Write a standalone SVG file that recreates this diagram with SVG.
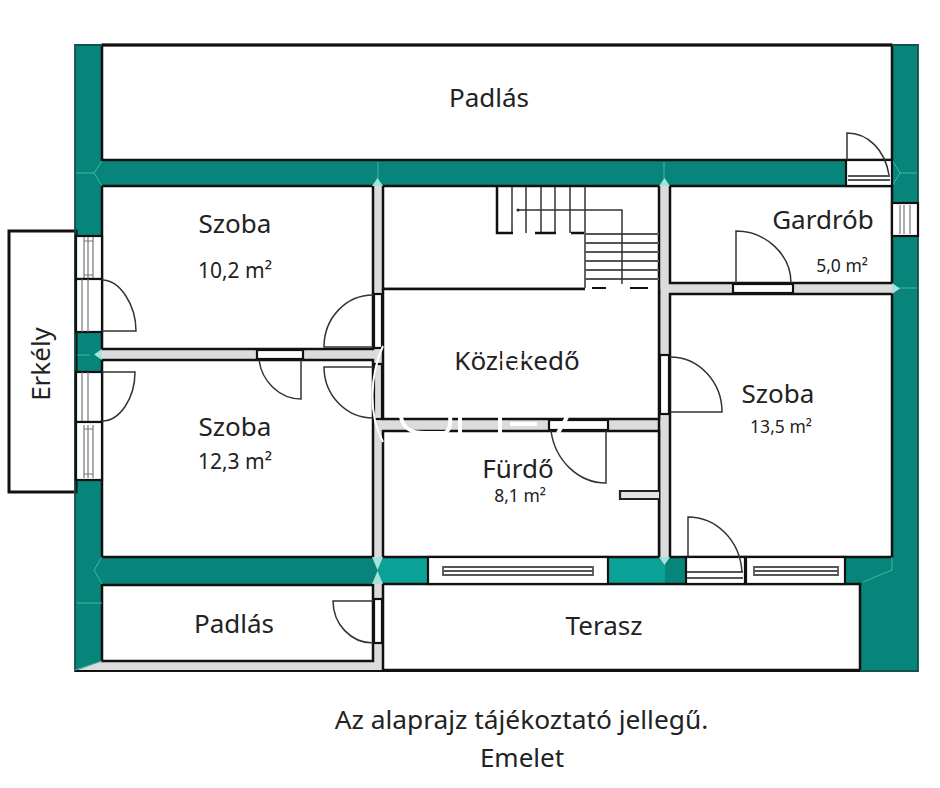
<svg xmlns="http://www.w3.org/2000/svg" width="940" height="788" viewBox="0 0 940 788">
<style>
text{font-family:"Noto Sans","Open Sans","Liberation Sans",sans-serif;fill:#222;text-anchor:middle}
.t{font-size:26px}.a{font-size:21px}.s{font-size:17.5px}
.room{fill:#fff;stroke:#111;stroke-width:2.5}
.teal{fill:#08857b}.lt{fill:#0aa296}
.gray{fill:#dcdcdc;stroke:none}
.edge{fill:none;stroke:#111;stroke-width:2.5}
.frame{fill:#fff;stroke:#111;stroke-width:2.2}
.thin{fill:none;stroke:#333;stroke-width:1.5}
.mid{fill:none;stroke:#555;stroke-width:1.8}
.fine{fill:none;stroke:#777;stroke-width:1.2}
.wm{fill:none;stroke:#fff;stroke-width:2}
.wmb{fill:none;stroke:#fff;stroke-width:4}
.wmf{fill:none;stroke:#fff;stroke-width:1.5}
.hi{fill:none;stroke:#3fb5aa;stroke-width:1}
.tip{fill:#a8e0da}
</style>
<rect width="940" height="788" fill="#fff"/>
<g id="walls">
<rect class="teal" x="75" y="45" width="843" height="626"/>
<rect class="lt" x="377" y="557" width="288" height="27"/>
<rect x="383" y="584" width="540" height="100" fill="#fff"/>
<rect x="918" y="40" width="22" height="640" fill="#fff"/>
<rect class="teal" x="860" y="584" width="58" height="86"/>
<rect class="gray" x="372" y="186" width="11" height="371"/>
<rect class="gray" x="372" y="584" width="11" height="87"/>
<rect class="gray" x="102" y="349" width="271" height="11"/>
<rect class="gray" x="659" y="186" width="11" height="371"/>
<rect class="gray" x="670" y="283" width="222" height="11"/>
<rect class="gray" x="383" y="419" width="276" height="12"/>
<polygon class="gray" points="75,671 102,661 372,661 383,661 383,671"/>
</g>
<g id="rooms">
<rect id="padlas-top" class="room" x="102" y="45" width="790" height="115"/>
<rect id="szoba-1" class="room" x="102" y="186" width="271" height="163"/>
<rect id="szoba-2" class="room" x="102" y="360" width="271" height="197"/>
<rect id="padlas-bottom" class="room" x="102" y="585" width="271" height="76"/>
<rect id="lepcso" x="383" y="186" width="276" height="103" fill="#fff"/>
<path class="edge" d="M383 186V289H585M383 186H659V557"/>
<rect id="kozlekedo" x="383" y="289" width="276" height="130" fill="#fff"/>
<path class="edge" d="M383 289V419H659V289M383 289H585"/>
<rect id="furdo" class="room" x="383" y="431" width="276" height="126"/>
<rect id="gardrob" class="room" x="670" y="186" width="222" height="97"/>
<rect id="szoba-3" class="room" x="670" y="294" width="222" height="263"/>
<rect id="terasz" class="room" x="383" y="584" width="477" height="86"/>
<rect id="erkely" fill="#fff" stroke="#111" stroke-width="3" x="9" y="231" width="67" height="261"/>
<path d="M75 45H918V671H75Z" fill="none" stroke="#15504a" stroke-width="1.8"/>
<path d="M75 671H860" fill="none" stroke="#111" stroke-width="2"/>
<path d="M102 45H892" fill="none" stroke="#111" stroke-width="3"/>
<path d="M659 491H620V499H659" stroke="#222" stroke-width="2.200" fill="#e4e4e4"/>
</g>
<g id="highlights">
<path class="hi" d="M76 173H94L102 161M94 173L102 186M378 162V180M664 162V180M892 160L900 173L892 186M900 173H917M77 603H102M77 472H102M94 570L102 557M94 570L102 584M863 582L892 570V557M75 670L102 661M892 288H917M77 355H90"/>
<polygon class="tip" points="372,186 377.5,178 383,186"/>
<polygon class="tip" points="659,186 664.500,178 670,186"/>
<polygon class="tip" points="892,283 900,288.500 892,294"/>
<polygon class="tip" points="102,349 94,354.500 102,360"/>
<polygon class="tip" points="372,557 377.500,570 383,557"/>
<polygon class="tip" points="372,584 377.500,571 383,584"/>
<polygon class="tip" points="659,557 664.500,565 670,557"/>
</g>
<g id="stairs">
<path class="mid" d="M512 187V233M526 187V233M541 187V233M555 187V233M570 187V233M585 187V288M585 234H659M585 243H659M585 252H659M585 261H659M585 270H659M585 279H659"/>
<path d="M497 187V233H513M535 233H556M571 233H584" class="edge"/>
<path d="M592 288H606M630 288H648" stroke="#111" stroke-width="2" fill="none"/>
<path class="thin" d="M518 210H622V284"/>
<circle cx="518" cy="210" r="1.5" fill="#222"/>
</g>
<g id="openings">
<rect class="frame" x="76" y="236" width="26" height="43"/>
<path class="fine" d="M84 237V278M88 237V278M93 237V278M84 241H93M84 275H93"/>
<rect class="frame" x="76" y="279" width="26" height="53"/>
<path class="fine" d="M82 279V332M88 279V332"/>
<rect class="frame" x="76" y="372" width="26" height="50"/>
<path class="fine" d="M82 372V422M88 372V422"/>
<rect class="frame" x="76" y="422" width="26" height="58"/>
<path class="fine" d="M84 425V478M88 425V478M93 425V478M84 429H93M84 474H93"/>
<rect class="frame" x="892" y="203" width="26" height="33"/>
<path class="fine" d="M900 205V234M904 205V234M910 205V234"/>
<rect class="frame" x="846" y="160" width="46" height="26"/>
<path class="mid" d="M848 176H890M848 180H890"/>
<rect class="frame" x="733" y="284" width="60" height="9"/>
<rect class="frame" x="257" y="350" width="46" height="9"/>
<rect class="frame" x="374" y="294" width="8" height="54"/>
<rect x="374" y="364" width="8" height="55" fill="#dcdcdc" stroke="#111" stroke-width="2.200"/>
<rect class="frame" x="374" y="599" width="8" height="44"/>
<rect class="frame" x="660" y="355" width="9" height="59"/>
<rect class="frame" x="549" y="420" width="59" height="10"/>
<rect class="frame" x="428" y="557" width="180" height="27"/>
<path class="mid" d="M443 566V576M593 566V576M443 567H593M443 571H593M443 575H593"/>
<rect class="frame" x="686" y="557" width="59" height="27"/>
<path class="mid" d="M687 572H743M687 578H743"/>
<rect class="frame" x="746" y="557" width="99" height="27"/>
<path class="mid" d="M754 566V576M838 566V576M754 567H838M754 571H838M754 575H838"/>
</g>
<g id="doors">
<path class="thin" d="M102 280C120 280 136 305 136 331H102"/>
<path class="thin" d="M102 372H135C135 398 120 421 102 421"/>
<path class="thin" d="M373 295C346 295 324 318 324 347H373"/>
<path class="thin" d="M373 367H324C324 395 346 418 373 418"/>
<path class="thin" d="M259 360C262 382 280 399 301 399V360"/>
<path class="thin" d="M373 601H333C333 624 351 643 373 643"/>
<path class="thin" d="M847 160V133C868 133 885 150 889 175"/>
<path class="thin" d="M736 283V231C765 231 791 254 791 283"/>
<path class="thin" d="M670 357C699 357 722 382 722 412H670"/>
<path class="thin" d="M551 431C555 460 578 483 606 483V431"/>
<path class="thin" d="M688 557V517C716 517 740 540 742 572"/>
</g>
<g id="labels">
<text class="t" x="489" y="107">Padlás</text>
<text class="t" x="235" y="233">Szoba</text>
<text class="a" x="235" y="278">10,2 m²</text>
<text class="t" x="823" y="229">Gardrób</text>
<text class="s" x="842" y="272">5,0 m²</text>
<text class="t" x="778" y="403">Szoba</text>
<text class="s" x="781" y="433">13,5 m²</text>
<text class="t" x="517" y="370">Közlekedő</text>
<text class="t" x="518" y="478">Fürdő</text>
<text class="s" x="520" y="502">8,1 m²</text>
<text class="t" x="235" y="436">Szoba</text>
<text class="a" x="235" y="469">12,3 m²</text>
<text class="t" x="234" y="633">Padlás</text>
<text class="t" x="604" y="635">Terasz</text>
<text class="t" transform="translate(50 364) rotate(-90)">Erkély</text>
<text class="t" x="521.500" y="729" style="font-size:26.3px">Az alaprajz tájékoztató jellegű.</text>
<text class="t" x="522" y="767">Emelet</text>
</g>
<g id="watermark">
<path class="wm" d="M383 346C370 375 368 415 383 442"/>
<path class="wmb" d="M401 417C403 428 410 433 425 433H445C450 430 451 425 450 417M460 417V433M500 417V433M510 424H537M558 433L567 417"/>
<path class="wmf" d="M503 345V372M500 360H530M522 352L514 372"/>
</g>
</svg>
